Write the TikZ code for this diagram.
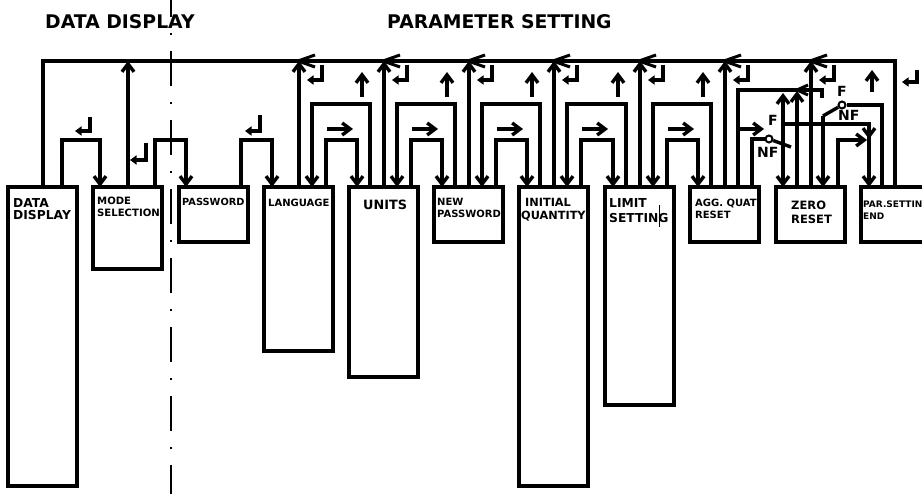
\documentclass[tikz,border=0pt]{standalone}
\usepackage{fontspec}
\setmainfont{DejaVu Sans}
\usetikzlibrary{arrows.meta}
\begin{document}
\begin{tikzpicture}[x=1pt,y=-1pt,
  pbox/.style={draw, line width=3.4pt, anchor=north west, inner sep=0pt, outer sep=0pt, minimum width=69pt},
  conn/.style={line width=3.4pt},
  arw/.style={-{Straight Barb[length=8pt,width=12pt]}},
  ret/.style={line width=3.1pt, -{Triangle[length=6.5pt,width=9pt]}},
  lbl/.style={anchor=base west, inner sep=0pt, font=\bfseries\fontsize{#1}{#1}\selectfont},
  swc/.style={circle, draw, line width=2pt, minimum size=7pt, inner sep=0pt, fill=white},
]
\useasboundingbox (0,0) rectangle (922,494);
\clip (0,0) rectangle (922,494);

% headings
\node[lbl=18.8] (h1) at (45,29) {DATA DISPLAY};
\node[lbl=18.8] (h2) at (387,29) {PARAMETER SETTING};

% separator
\draw[line width=1.4pt, dash pattern=on 35pt off 16pt on 2pt off 16pt] (171,-18) -- (171,494);

% boxes
\node[pbox, minimum height=299pt] (dd) at (8,187) {};
\node[pbox, minimum height=82pt] (ms) at (93,187) {};
\node[pbox, minimum height=55pt] (pw) at (179,187) {};
\node[pbox, minimum height=164pt] (lang) at (264,187) {};
\node[pbox, minimum height=190pt] (units) at (349,187) {};
\node[pbox, minimum height=55pt] (npw) at (434,187) {};
\node[pbox, minimum height=299pt] (iq) at (519,187) {};
\node[pbox, minimum height=218pt] (lim) at (605,187) {};
\node[pbox, minimum height=55pt] (agg) at (690,187) {};
\node[pbox, minimum height=55pt] (zero) at (776,187) {};
\node[pbox, minimum height=55pt] (par) at (861,187) {};

% box texts
\node[lbl=12.3] (tdd1) at (13,207.5) {DATA};
\node[lbl=12.3] (tdd2) at (13,219.5) {DISPLAY};
\node[lbl=10.1] (tms1) at (97,205) {MODE};
\node[lbl=10.1] (tms2) at (97,216.5) {SELECTION};
\node[lbl=9.8] (tpw) at (182,205.5) {PASSWORD};
\node[lbl=10] (tlang) at (268,207) {LANGUAGE};
\node[lbl=12.8] (tunits) at (363,209.5) {UNITS};
\node[lbl=10] (tnpw1) at (437,206) {NEW};
\node[lbl=10] (tnpw2) at (437,218) {PASSWORD};
\node[lbl=11.3] (tiq1) at (525,206.5) {INITIAL};
\node[lbl=11.3] (tiq2) at (521,219.5) {QUANTITY};
\node[lbl=12.3] (tlim1) at (609,208) {LIMIT};
\node[lbl=12.3] (tlim2) at (609,223) {SETTING};
\draw[line width=0.8pt] (659,205) -- (659,227);
\node[lbl=10] (tagg1) at (695,207) {AGG. QUAT};
\node[lbl=10] (tagg2) at (695,218.5) {RESET};
\node[lbl=11.5] (tz1) at (791,210) {ZERO};
\node[lbl=11.5] (tz2) at (791,224) {RESET};
\node[lbl=9] (tpar1) at (863,208) {PAR.SETTIN};
\node[lbl=9] (tpar2) at (863,219.5) {END};

% main return bus
\draw[conn] ([xshift=35pt]dd.north west) -- ++(0,-126) -| ([xshift=34pt]par.north west);

% data display / mode / password
\draw[conn,arw] ([xshift=54pt]dd.north west) -- ++(0,-47) -| ([xshift=7pt]ms.north west);
\draw[ret] ([xshift=82pt,yshift=70pt]dd.north west) -- ++(0,14) -- ++(-15,0);
\draw[conn,arw] ([xshift=35pt]ms.north west) -- ++(0,-126);
\draw[ret] ([xshift=53pt,yshift=44pt]ms.north west) -- ++(0,17) -- ++(-16,0);
\draw[conn,arw] ([xshift=62pt]ms.north west) -- ++(0,-47) -| ([xshift=7pt]pw.north west);
\draw[conn,arw] ([xshift=62pt]pw.north west) -- ++(0,-47) -| ([xshift=8pt]lang.north west);
\draw[ret] ([xshift=81pt,yshift=72pt]pw.north west) -- ++(0,16) -- ++(-15,0);

% repeated forward/back loops
\foreach \bb/\nx in {lang/units, units/npw, npw/iq, iq/lim, lim/agg} {
  \draw[conn,arw] ([xshift=62pt]\bb.north west) -- ++(0,-47) -| ([xshift=8pt]\nx.north west);
  \draw[conn,arw] ([xshift=63pt,yshift=58pt]\bb.north west) -- ++(26,0);
  \draw[conn,arw] ([xshift=21pt]\nx.north west) -- ++(0,-83) -| ([xshift=48pt]\bb.north west);
  \draw[conn,arw] ([xshift=13pt,yshift=90pt]\nx.north west) -- ++(0,-25);
}

% up lines to the bus
\foreach \bb in {lang, units, npw, iq, lim, agg, zero} {
  \draw[conn,arw] ([xshift=35pt]\bb.north west) -- ++(0,-126);
  \draw[conn,line width=3pt] ([xshift=51pt,yshift=132pt]\bb.north west) -- ++(-17,6) -- ++(17,6);
  \draw[ret] ([xshift=58pt,yshift=122pt]\bb.north west) -- ++(0,15) -- ++(-15,0);
}

% agg / zero / par switching
\coordinate (f2) at (822,98);
\coordinate (f1) at (783,124);
\coordinate (nf1) at (791,147);
\coordinate (nf2) at (823,116);
\node[swc] (sw1) at (769,139) {};
\node[swc] (sw2) at (842,105) {};

\draw[conn] ([xshift=48pt]agg.north west) -- ++(0,-97) -| (f2);
\draw[conn,arw] ([xshift=49pt,yshift=58pt]agg.north west) -- ++(25,0);
\draw[conn] ([xshift=62pt]agg.north west) |- (sw1.west);
\draw[conn] (sw1) -- (nf1);
\node[lbl=14] (lf1) at (768,126) {F};
\node[lbl=14] (lnf1) at (757,157.5) {NF};

\draw[conn] (f1) -| ([xshift=8pt,yshift=48pt]par.north west);
\draw[conn,arw] ([xshift=8pt,yshift=62pt]par.north west) -- ([xshift=8pt,yshift=48pt]par.north west);
\draw[conn,arw] ([xshift=8pt,yshift=48pt]par.north west) -- ([xshift=8pt]par.north west);
\draw[conn,arw] (f1) -- ([xshift=7pt]zero.north west);
\draw[conn,arw] (f1) -- ++(0,-31);

\draw[conn,arw] ([xshift=21pt]zero.north west) -- ++(0,-96);
\draw[conn,line width=3pt] ([xshift=32pt,yshift=102pt]zero.north west) -- ++(-11,5) -- ++(11,5);

\draw[conn] ([xshift=21pt]par.north west) |- (sw2.east);
\draw[conn] (sw2) -- (nf2);
\draw[conn,arw] (nf2) -- ([xshift=47pt]zero.north west);
\node[lbl=14] (lf2) at (837,97) {F};
\node[lbl=14] (lnf2) at (838,120.5) {NF};

\draw[conn,arw] ([xshift=62pt]zero.north west) -- ++(0,-47) -- ++(29,0);
\draw[conn,arw] ([xshift=11pt,yshift=95pt]par.north west) -- ++(0,-22);
\draw[ret] ([xshift=56pt,yshift=117pt]par.north west) -- ++(0,12) -- ++(-15,0);
\end{tikzpicture}
\end{document}
